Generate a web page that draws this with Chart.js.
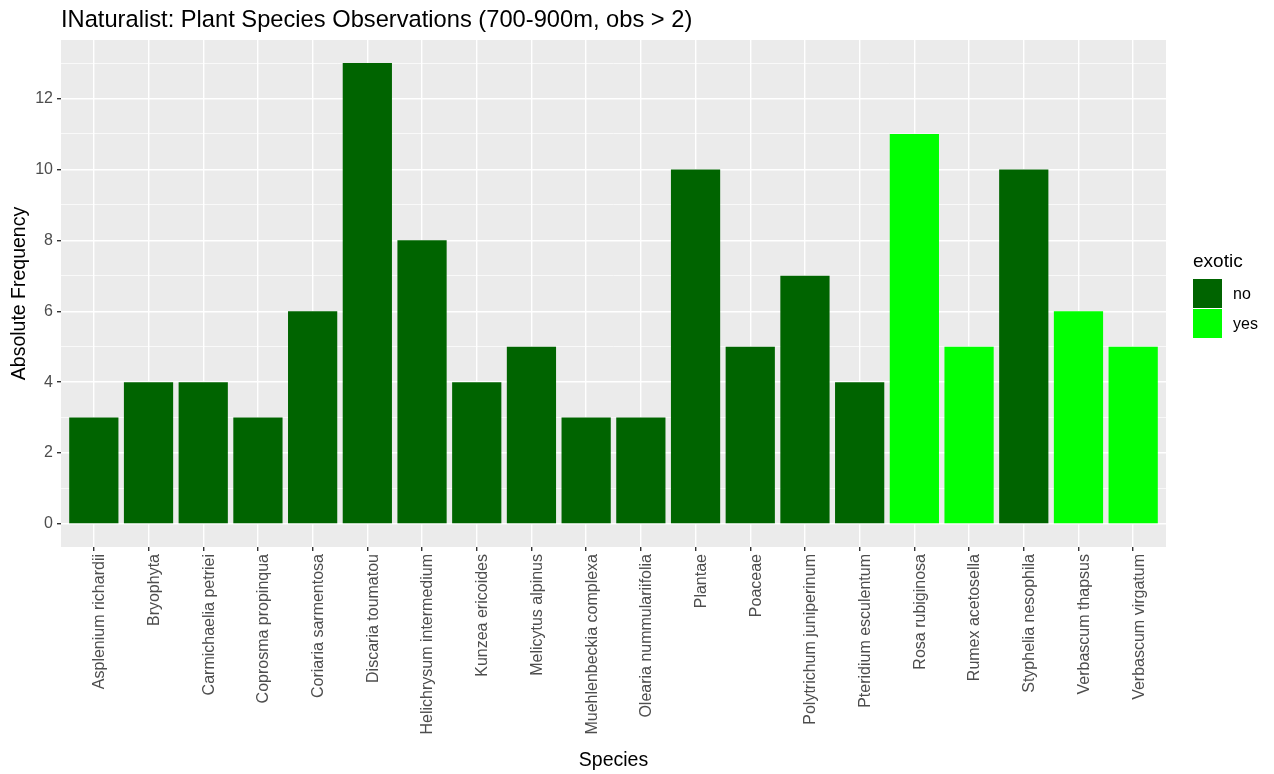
<!DOCTYPE html>
<html>
<head>
<meta charset="utf-8">
<script src="https://cdn.jsdelivr.net/npm/chart.js@4/dist/chart.umd.min.js"></script>
<style>
  body { margin: 0; background: #fff; }
  #wrap { width: 1274px; height: 774px; }
</style>
</head>
<body>
<div id="wrap"><canvas id="chart" width="1274" height="774"></canvas></div>
<script>
// data
const species = [
  'Asplenium richardii', 'Bryophyta', 'Carmichaelia petriei', 'Coprosma propinqua',
  'Coriaria sarmentosa', 'Discaria toumatou', 'Helichrysum intermedium', 'Kunzea ericoides',
  'Melicytus alpinus', 'Muehlenbeckia complexa', 'Olearia nummulariifolia', 'Plantae',
  'Poaceae', 'Polytrichum juniperinum', 'Pteridium esculentum', 'Rosa rubiginosa',
  'Rumex acetosella', 'Styphelia nesophila', 'Verbascum thapsus', 'Verbascum virgatum'
];
const counts = [3, 4, 4, 3, 6, 13, 8, 4, 5, 3, 3, 10, 5, 7, 4, 11, 5, 10, 6, 5];
const exotic = [
  'no', 'no', 'no', 'no', 'no', 'no', 'no', 'no', 'no', 'no',
  'no', 'no', 'no', 'no', 'no', 'yes', 'yes', 'no', 'yes', 'yes'
];
const exoticLevels = ['no', 'yes'];
const exoticColors = { no: '#006400', yes: '#00FF00' };
const yTicks = [0, 1, 2, 3, 4, 5, 6, 7, 8, 9, 10, 11, 12, 13];

const FONT = "'Liberation Sans', Arial, sans-serif";

// grey panel, title and legend (ggplot look)
const ggPlugin = {
  id: 'ggplot',
  beforeDraw(chart) {
    const { ctx, chartArea } = chart;
    ctx.save();
    ctx.fillStyle = '#EBEBEB';
    ctx.fillRect(chartArea.left, chartArea.top, chartArea.right - chartArea.left, chartArea.bottom - chartArea.top);
    ctx.restore();
  },
  afterDraw(chart) {
    const { ctx, chartArea } = chart;
    ctx.save();
    // title
    ctx.fillStyle = '#000';
    ctx.font = '23.7px ' + FONT;
    ctx.textBaseline = 'middle';
    ctx.textAlign = 'left';
    ctx.fillText('INaturalist: Plant Species Observations (700-900m, obs > 2)', chartArea.left, 20);

    // legend
    const lx = chartArea.right + 27;
    ctx.font = '19px ' + FONT;
    ctx.fillText('exotic', lx, 262);
    exoticLevels.forEach((lvl, i) => {
      const ky = 279 + i * 30;
      ctx.fillStyle = exoticColors[lvl];
      ctx.fillRect(lx, ky, 29, 29);
      ctx.fillStyle = '#000';
      ctx.font = '16px ' + FONT;
      ctx.fillText(lvl, lx + 40, ky + 16);
    });
    ctx.restore();
  }
};

const ctx = document.getElementById('chart').getContext('2d');
const chart = new Chart(ctx, {
  type: 'bar',
  data: {
    datasets: [{
      label: 'count',
      data: species.map((s, i) => ({ x: i, y: counts[i] })),
      backgroundColor: exotic.map(e => exoticColors[e]),
      borderWidth: 0,
      categoryPercentage: 0.9,
      barPercentage: 1.0
    }]
  },
  options: {
    responsive: false,
    animation: false,
    layout: { padding: { top: 40, right: 108, left: 0, bottom: 0 } },
    plugins: {
      legend: { display: false },
      tooltip: { enabled: false }
    },
    scales: {
      x: {
        type: 'linear',
        min: -0.6,
        max: species.length - 1 + 0.6,
        offset: false,
        afterBuildTicks: (scale) => { scale.ticks = species.map((s, i) => ({ value: i })); },
        afterFit: (scale) => { scale.height = 227; },
        border: { display: false },
        grid: {
          offset: false,
          color: '#FFFFFF',
          lineWidth: 1.4,
          drawTicks: true,
          tickLength: 4,
          tickColor: '#333333'
        },
        ticks: {
          autoSkip: false,
          minRotation: 90,
          maxRotation: 90,
          padding: 3,
          labelOffset: 6,
          color: '#4D4D4D',
          font: { family: FONT, size: 16 },
          callback: (v) => species[v]
        },
        title: {
          display: true,
          text: 'Species',
          color: '#000',
          font: { family: FONT, size: 19.5 },
          padding: { top: 4, bottom: 2 }
        }
      },
      y: {
        min: -0.65,
        max: 13.65,
        afterBuildTicks: (scale) => { scale.ticks = yTicks.map(v => ({ value: v })); },
        afterFit: (scale) => { scale.width = 61; },
        border: { display: false },
        grid: {
          color: '#FFFFFF',
          lineWidth: (c) => (c.tick && c.tick.value % 2 === 0 ? 1.4 : 0.7),
          drawTicks: true,
          tickLength: 4,
          tickColor: (c) => (c.tick && c.tick.value % 2 === 0 ? '#333333' : 'rgba(0,0,0,0)')
        },
        ticks: {
          padding: 4,
          color: '#4D4D4D',
          font: { family: FONT, size: 16 },
          callback: (v) => (v % 2 === 0 ? v : '')
        },
        title: {
          display: true,
          text: 'Absolute Frequency',
          color: '#000',
          font: { family: FONT, size: 19.5 },
          padding: { top: 8, bottom: 4 }
        }
      }
    }
  },
  plugins: [ggPlugin]
});
</script>
</body>
</html>
